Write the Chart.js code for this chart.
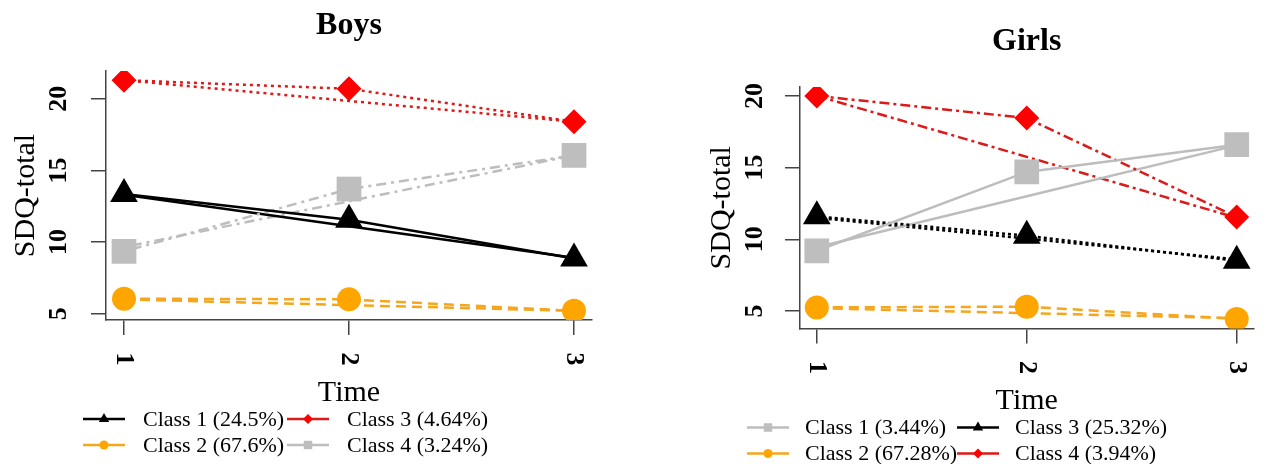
<!DOCTYPE html>
<html>
<head>
<meta charset="utf-8">
<script src="https://cdn.jsdelivr.net/npm/chart.js@4.4.1/dist/chart.umd.min.js"></script>
<style>
  body { margin: 0; background: #fff; }
  #wrap { position: relative; width: 1271px; height: 464px; }
  .panel { position: absolute; top: 0; height: 464px; }
</style>
</head>
<body>
<div id="wrap">
  <div class="panel" style="left:0;width:636px"><canvas id="boys" width="636" height="464"></canvas></div>
  <div class="panel" style="left:636px;width:635px"><canvas id="girls" width="635" height="464"></canvas></div>
</div>
<script>
const timePoints = [1, 2, 3];
const yTickValues = [5, 10, 15, 20];

// Boys - observed means and estimated (linear) trajectories
const boysLabels = ['Class 1 (24.5%)', 'Class 2 (67.6%)', 'Class 3 (4.64%)', 'Class 4 (3.24%)'];
const boysClass1Obs = [13.35, 11.55, 8.85];
const boysClass1Est = [13.3, 11.1, 8.9];
const boysClass2Obs = [6.05, 6.0, 5.2];
const boysClass2Est = [6.0, 5.6, 5.2];
const boysClass3Obs = [21.3, 20.7, 18.4];
const boysClass3Est = [21.3, 19.85, 18.4];
const boysClass4Obs = [9.35, 13.7, 16.05];
const boysClass4Est = [9.65, 12.85, 16.05];

// Girls
const girlsLabels = ['Class 1 (3.44%)', 'Class 2 (67.28%)', 'Class 3 (25.32%)', 'Class 4 (3.94%)'];
const girlsClass1Obs = [9.2, 14.7, 16.6];
const girlsClass1Est = [9.45, 13.0, 16.55];
const girlsClass2Obs = [5.25, 5.3, 4.45];
const girlsClass2Est = [5.2, 4.85, 4.5];
const girlsClass3Obs = [11.6, 10.25, 8.5];
const girlsClass3Est = [11.5, 10.05, 8.6];
const girlsClass4Obs = [20.0, 18.45, 11.55];
const girlsClass4Est = [20.0, 15.75, 11.5];

// looks
const BLACK = { line: '#000000', fill: '#000000', shape: 'triangle', radius: 16, small: 6 };
const ORANGE = { line: '#f4a71c', fill: '#ffa500', shape: 'circle', radius: 12, small: 4.5 };
const RED = { line: '#dd1a1a', fill: '#ff0000', shape: 'rectRot', radius: 12.5, small: 5 };
const GRAY = { line: '#bdbdbd', fill: '#bebebe', shape: 'rect', radius: 17.5, small: 6 };

const SERIF = '"Liberation Serif", "Times New Roman", serif';

const boysSeries = [
  { label: boysLabels[0], obs: boysClass1Obs, est: boysClass1Est, look: BLACK, dash: [] },
  { label: boysLabels[1], obs: boysClass2Obs, est: boysClass2Est, look: ORANGE, dash: [10, 6] },
  { label: boysLabels[2], obs: boysClass3Obs, est: boysClass3Est, look: RED, dash: [3, 4] },
  { label: boysLabels[3], obs: boysClass4Obs, est: boysClass4Est, look: GRAY, dash: [3, 5, 10, 5] }
];
const girlsSeries = [
  { label: girlsLabels[0], obs: girlsClass1Obs, est: girlsClass1Est, look: GRAY, dash: [] },
  { label: girlsLabels[1], obs: girlsClass2Obs, est: girlsClass2Est, look: ORANGE, dash: [10, 6] },
  { label: girlsLabels[2], obs: girlsClass3Obs, est: girlsClass3Est, look: BLACK, dash: [3, 3] },
  { label: girlsLabels[3], obs: girlsClass4Obs, est: girlsClass4Est, look: RED, dash: [10, 4, 3, 4] }
];

function drawMark(ctx, look, x, y, r) {
  ctx.fillStyle = look.fill;
  ctx.strokeStyle = look.fill;
  if (Chart.helpers && Chart.helpers.drawPoint) {
    Chart.helpers.drawPoint(ctx, { pointStyle: look.shape, radius: r, rotation: 0, borderWidth: 0 }, x, y);
  } else {
    ctx.beginPath(); ctx.arc(x, y, r, 0, Math.PI * 2); ctx.fill();
  }
}

const textPlugin = {
  id: 'rtext',
  afterDraw(chart, args, o) {
    const { ctx, chartArea: a, scales: { x, y } } = chart;
    const cx = (a.left + a.right) / 2;
    ctx.save();
    ctx.fillStyle = '#000';

    ctx.font = 'bold 32px ' + SERIF;
    ctx.textAlign = 'center';
    ctx.textBaseline = 'alphabetic';
    ctx.fillText(o.title, cx, a.top - 37);

    ctx.font = 'bold 26px ' + SERIF;
    ctx.textBaseline = 'middle';
    y.ticks.forEach(t => {
      ctx.save();
      ctx.translate(a.left - o.yLabelGap, y.getPixelForValue(t.value));
      ctx.rotate(-Math.PI / 2);
      ctx.fillText(String(t.value), 0, 0);
      ctx.restore();
    });
    x.ticks.forEach(t => {
      ctx.save();
      ctx.translate(x.getPixelForValue(t.value), a.bottom + 39);
      ctx.rotate(Math.PI / 2);
      ctx.fillText(String(t.value), 0, 0);
      ctx.restore();
    });

    ctx.font = '30px ' + SERIF;
    ctx.fillText('Time', cx, a.bottom + 73);
    ctx.save();
    ctx.translate(a.left - o.yTitleGap, (a.top + a.bottom) / 2);
    ctx.rotate(-Math.PI / 2);
    ctx.fillText('SDQ-total', 0, 0);
    ctx.restore();

    // legend: two columns, two rows
    ctx.font = '22px ' + SERIF;
    ctx.textAlign = 'left';
    o.series.forEach((s, i) => {
      const col = Math.floor(i / 2), row = i % 2;
      const mx = o.legendCols[col];
      const my = a.bottom + 99 + row * 26;
      ctx.strokeStyle = s.look.line;
      ctx.lineWidth = 2.5;
      ctx.setLineDash([]);
      ctx.beginPath();
      ctx.moveTo(mx - 21, my);
      ctx.lineTo(mx + 21, my);
      ctx.stroke();
      drawMark(ctx, s.look, mx, my, s.look.small);
      ctx.fillStyle = '#000';
      ctx.fillText(s.label, mx + o.legendTextGap, my + 1);
    });
    ctx.restore();
  }
};

function makeChart(id, series, opts) {
  const datasets = [];
  series.forEach(s => {
    datasets.push({
      label: s.label,
      data: timePoints.map((t, i) => ({ x: t, y: s.obs[i] })),
      borderColor: s.look.line,
      backgroundColor: s.look.fill,
      borderDash: s.dash,
      borderWidth: 2.5,
      pointStyle: s.look.shape,
      pointRadius: s.look.radius,
      pointBackgroundColor: s.look.fill,
      pointBorderColor: s.look.fill,
      pointBorderWidth: 0,
      tension: 0,
      order: 0
    });
  });
  series.forEach(s => {
    datasets.push({
      label: s.label + ' estimated',
      data: timePoints.map((t, i) => ({ x: t, y: s.est[i] })),
      borderColor: s.look.line,
      borderDash: s.dash,
      borderWidth: 2.5,
      pointRadius: 0,
      tension: 0,
      order: 1
    });
  });

  return new Chart(document.getElementById(id), {
    type: 'line',
    data: { datasets },
    options: {
      responsive: false,
      animation: false,
      events: [],
      layout: { padding: opts.padding },
      plugins: {
        legend: { display: false },
        tooltip: { enabled: false },
        rtext: {
          title: opts.title, series,
          yLabelGap: opts.yLabelGap, yTitleGap: opts.yTitleGap,
          legendCols: opts.legendCols, legendTextGap: opts.legendTextGap
        }
      },
      scales: {
        x: {
          type: 'linear', min: 0.92, max: 3.08,
          afterBuildTicks: s => { s.ticks = timePoints.map(v => ({ value: v })); },
          afterFit: s => { s.height = 16; },
          ticks: { display: false },
          grid: { drawOnChartArea: false, drawTicks: true, tickLength: 15, color: '#444', lineWidth: 1.5 },
          border: { display: true, color: '#444', width: 1.5 }
        },
        y: {
          type: 'linear', min: opts.yMin, max: opts.yMax,
          afterBuildTicks: s => { s.ticks = yTickValues.map(v => ({ value: v })); },
          afterFit: s => { s.width = 16; },
          ticks: { display: false },
          grid: { drawOnChartArea: false, drawTicks: true, tickLength: 15, color: '#444', lineWidth: 1.5 },
          border: { display: true, color: '#444', width: 1.5 }
        }
      }
    },
    plugins: [textPlugin]
  });
}

makeChart('boys', boysSeries, {
  title: 'Boys', yMin: 4.56, yMax: 21.94,
  padding: { left: 90, right: 44, top: 71, bottom: 128 },
  yLabelGap: 47, yTitleGap: 80,
  legendCols: [104, 308], legendTextGap: 39
});
makeChart('girls', girlsSeries, {
  title: 'Girls', yMin: 3.78, yMax: 20.62,
  padding: { left: 148, right: 2, top: 87, bottom: 119.5 },
  yLabelGap: 45, yTitleGap: 78,
  legendCols: [132, 342], legendTextGap: 37
});
</script>
</body>
</html>
